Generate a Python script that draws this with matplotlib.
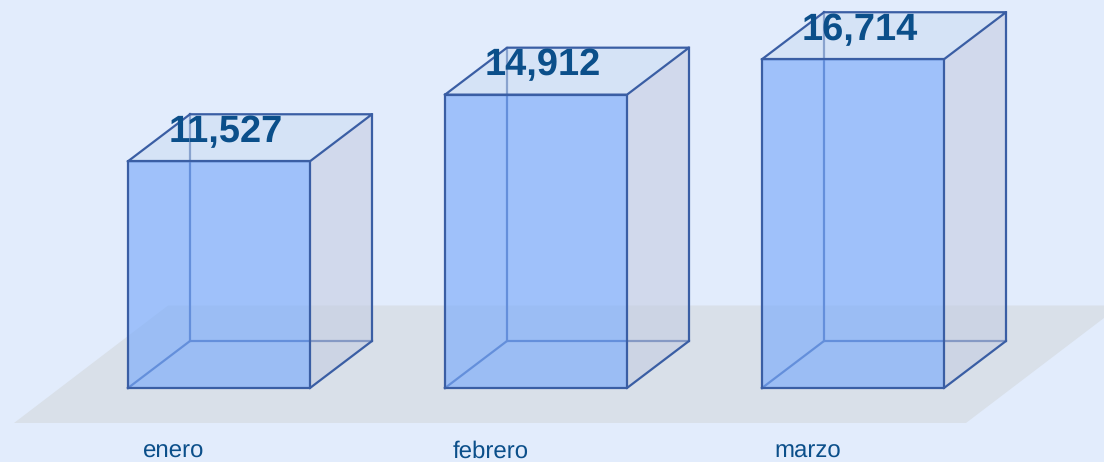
import matplotlib
matplotlib.use('Agg')
from matplotlib import pyplot as plt
from matplotlib.patches import Polygon

plt.rcParams['font.family'] = ['Liberation Sans', 'DejaVu Sans']
plt.rcParams['text.hinting'] = 'none'
plt.rcParams['text.hinting_factor'] = 1

# datos
meses = ['enero', 'febrero', 'marzo']
valores = [11527, 14912, 16714]
etiquetas = ['11,527', '14,912', '16,714']

# escala en pixeles del dibujo
W, H = 1104, 462
PX_X = 317.0       # pixeles por categoria
PX_Y = 0.01967     # pixeles por unidad
X0 = 219.0         # centro de la primera caja
Y0 = 388.0         # linea base


def dx(px):
    return px / PX_X


def dy(px):
    return px / PX_Y


BG = '#E2ECFC'
FRONT = '#7BABFA'
SIDE = '#C3CBE0'
TOP = '#CBDCF2'
FLOOR = '#D9E0E9'
EDGE = '#3A5EA4'
TEXT = '#0B4F8A'

fig = plt.figure(figsize=(W / 100, H / 100), dpi=100, facecolor=BG)
ax = fig.add_axes([0, 0, 1, 1])
ax.set_xlim(-X0 / PX_X, (W - X0) / PX_X)
ax.set_ylim(-(H - Y0) / PX_Y, Y0 / PX_Y)
ax.axis('off')

# suelo
y_a = dy(Y0 - 423)
y_b = dy(Y0 - 305.5)
x_px = lambda p: (p - X0) / PX_X
ax.add_patch(Polygon([(x_px(14), y_a), (x_px(168), y_b), (x_px(1104), y_b),
                      (x_px(1104), dy(Y0 - 318)), (x_px(966), y_a)],
                     closed=True, fc=FLOOR, ec='none', zorder=1))

ancho = dx(182) / 2
prof_x = dx(62)
prof_y = dy(47)

for i, (mes, v, txt) in enumerate(zip(meses, valores, etiquetas)):
    l, r = i - ancho, i + ancho
    # aristas traseras
    ax.plot([l + prof_x, l + prof_x], [prof_y, v + prof_y], color=EDGE, lw=1.6, zorder=2)
    ax.plot([l, l + prof_x, r + prof_x], [0, prof_y, prof_y], color=EDGE, lw=1.6, zorder=2)
    # cara lateral y superior
    ax.add_patch(Polygon([(r, 0), (r + prof_x, prof_y), (r + prof_x, v + prof_y), (r, v)],
                         closed=True, fc=SIDE, alpha=0.55, ec='none', zorder=3))
    ax.add_patch(Polygon([(l, v), (l + prof_x, v + prof_y), (r + prof_x, v + prof_y), (r, v)],
                         closed=True, fc=TOP, alpha=0.55, ec='none', zorder=3))
    ax.plot([l, l + prof_x, r + prof_x, r, l], [v, v + prof_y, v + prof_y, v, v],
            color=EDGE, lw=1.6, zorder=4)
    ax.plot([r, r + prof_x, r + prof_x], [0, prof_y, v + prof_y], color=EDGE, lw=1.6, zorder=4)
    # cara frontal
    ax.add_patch(Polygon([(l, 0), (r, 0), (r, v), (l, v)], closed=True,
                         fc=FRONT, alpha=0.65, ec='none', zorder=5))
    ax.plot([l, r, r, l, l], [0, 0, v, v, 0], color=EDGE, lw=1.6, zorder=6)
    # textos
    ax.text(i + dx(6.5), v + dy(19.5), txt, ha='center', va='baseline', fontsize=27,
            fontweight='bold', color=TEXT, zorder=7)
    ax.text(i - dx(45.5), dy(Y0 - 458), mes, ha='center', va='baseline', fontsize=17.2,
            color=TEXT, zorder=7)

fig.savefig('out.png', dpi=100, facecolor=BG)
